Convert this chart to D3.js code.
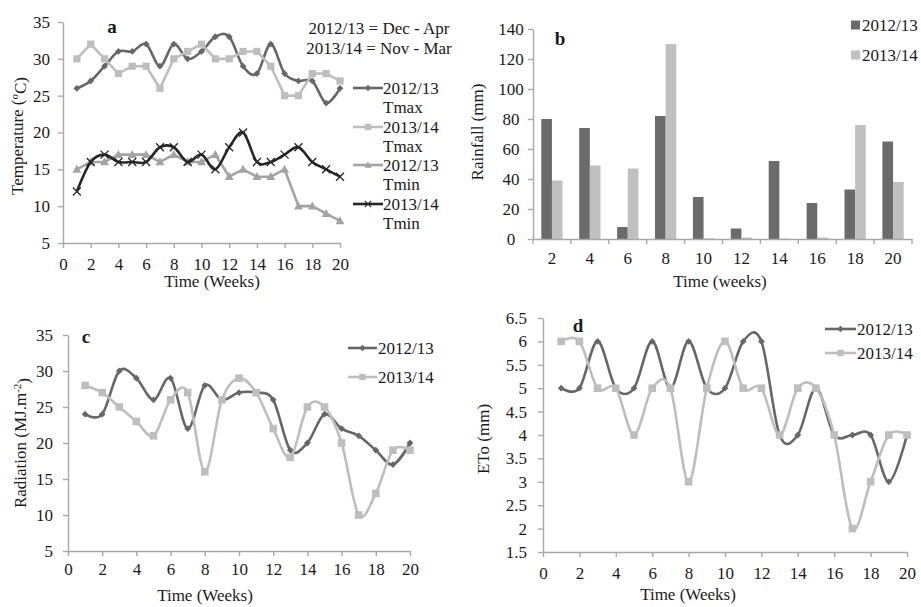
<!DOCTYPE html>
<html>
<head>
<meta charset="utf-8">
<script src="https://cdn.jsdelivr.net/npm/d3@7"></script>
<style>
  body { margin: 0; background: #fff; }
  svg text { font-family: "Liberation Serif", "Times New Roman", serif; fill: #1a1a1a; }
</style>
</head>
<body>
<svg id="fig" width="921" height="607"></svg>
<script>
// ---- data ----
const weeks = [1, 2, 3, 4, 5, 6, 7, 8, 9, 10, 11, 12, 13, 14, 15, 16, 17, 18, 19, 20];
const weekTicks = [0, 2, 4, 6, 8, 10, 12, 14, 16, 18, 20];

// (a) temperature, °C
const tmax1213 = [26, 27, 29, 31, 31, 32, 29, 32, 30, 31, 33, 33, 29, 28, 32, 28, 27, 27, 24, 26];
const tmax1314 = [30, 32, 30, 28, 29, 29, 26, 30, 31, 32, 30, 30, 31, 31, 29, 25, 25, 28, 28, 27];
const tmin1213 = [15, 16, 16, 17, 17, 17, 16, 17, 16, 16, 17, 14, 15, 14, 14, 15, 10, 10, 9, 8];
const tmin1314 = [12, 16, 17, 16, 16, 16, 18, 18, 16, 17, 15, 18, 20, 16, 16, 17, 18, 16, 15, 14];
const tempTicks = [5, 10, 15, 20, 25, 30, 35];

// (b) rainfall, mm (two-week totals)
const rainWeeks = ["2", "4", "6", "8", "10", "12", "14", "16", "18", "20"];
const rain1213 = [80, 74, 8, 82, 28, 7, 52, 24, 33, 65];
const rain1314 = [39, 49, 47, 130, 0.5, 1, 0.3, 1, 76, 38];
const rainTicks = [0, 20, 40, 60, 80, 100, 120, 140];

// (c) solar radiation, MJ m-2
const rad1213 = [24, 24, 30, 29, 26, 29, 22, 28, 26, 27, 27, 26, 19, 20, 24, 22, 21, 19, 17, 20];
const rad1314 = [28, 27, 25, 23, 21, 26, 27, 16, 26, 29, 27, 22, 18, 25, 25, 20, 10, 13, 19, 19];
const radTicks = [5, 10, 15, 20, 25, 30, 35];

// (d) reference evapotranspiration, mm
const eto1213 = [5, 5, 6, 5, 5, 6, 5, 6, 5, 5, 6, 6, 4, 4, 5, 4, 4, 4, 3, 4];
const eto1314 = [6, 6, 5, 5, 4, 5, 5, 3, 5, 6, 5, 5, 4, 5, 5, 4, 2, 3, 4, 4];
const etoTicks = [1.5, 2, 2.5, 3, 3.5, 4, 4.5, 5, 5.5, 6, 6.5];

const seasons = ["2012/13", "2013/14"];

// ---- styling ----
const serif = '"Liberation Serif", "Times New Roman", serif';
const axisColor = "#a8a8a8";
const cDark = "#676767";
const cLight = "#bebebe";
const cMid = "#a3a3a3";
const cBlack = "#262626";

const svg = d3.select("#fig");

function styleAxis(sel) {
  sel.attr("font-family", null).attr("font-size", null);
  sel.select(".domain").attr("stroke", axisColor).attr("stroke-width", 1.4);
  sel.selectAll(".tick line").attr("stroke", axisColor).attr("stroke-width", 1.4);
  sel.selectAll(".tick text").style("font-size", "17px").style("font-family", serif);
}

function markerPath(kind) {
  switch (kind) {
    case "diamond": return "M0,-4L4,0L0,4L-4,0Z";
    case "square": return "M-4,-4H4V4H-4Z";
    case "triangle": return "M0,-4.6L4.4,3.4H-4.4Z";
    case "x": return "M-4,-4L4,4M-4,4L4,-4";
  }
}

function drawMarker(g, kind, color, scale) {
  const p = g.append("path").attr("d", markerPath(kind));
  if (scale) p.attr("transform", `scale(${scale})`);
  if (kind === "x") p.attr("fill", "none").attr("stroke", color).attr("stroke-width", 1.3);
  else p.attr("fill", color);
  return p;
}

function linePanel(p) {
  const x = d3.scaleLinear().domain([0, 20]).range([p.left, p.right]);
  const y = d3.scaleLinear().domain(p.yDomain).range([p.bottom, p.top]);

  svg.append("g")
    .attr("transform", `translate(0,${p.bottom})`)
    .call(d3.axisBottom(x).tickValues(weekTicks).tickSize(5).tickSizeOuter(0).tickPadding(p.xPad))
    .call(styleAxis);

  svg.append("g")
    .attr("transform", `translate(${p.left},0)`)
    .call(d3.axisLeft(y).tickValues(p.yTicks).tickFormat(d => String(d))
      .tickSize(5).tickSizeOuter(0).tickPadding(p.yPad))
    .call(styleAxis);

  p.series.forEach(s => {
    const line = d3.line()
      .x((d, i) => x(weeks[i]))
      .y(d => y(d))
      .curve(s.smooth ? d3.curveCardinal.tension(0) : d3.curveLinear);
    svg.append("path")
      .datum(s.values)
      .attr("d", line)
      .attr("fill", "none")
      .attr("stroke", s.color)
      .attr("stroke-width", 2.6)
      .attr("stroke-linejoin", "round");
    const mg = svg.append("g");
    s.values.forEach((v, i) => {
      const m = mg.append("g").attr("transform", `translate(${x(weeks[i])},${y(v)})`);
      drawMarker(m, s.marker, s.markerColor || s.color, s.markerScale);
    });
  });
  return { x, y };
}

function lineLegend(items, x0, x1, textX) {
  items.forEach(it => {
    svg.append("line")
      .attr("x1", x0).attr("x2", x1).attr("y1", it.y).attr("y2", it.y)
      .attr("stroke", it.color).attr("stroke-width", 2.6);
    const m = svg.append("g").attr("transform", `translate(${(x0 + x1) / 2},${it.y})`);
    drawMarker(m, it.marker, it.color, 0.8);
    it.lines.forEach((t, k) => {
      svg.append("text")
        .attr("x", textX).attr("y", it.y + k * 19.5)
        .attr("dy", "0.35em")
        .style("font-size", "17px")
        .text(t);
    });
  });
}

function panelLetter(t, x, y) {
  svg.append("text").attr("x", x).attr("y", y)
    .attr("text-anchor", "middle")
    .style("font-size", "19px").style("font-weight", "bold")
    .text(t);
}

function xTitle(t, x, y) {
  svg.append("text").attr("x", x).attr("y", y)
    .attr("text-anchor", "middle").style("font-size", "17px").text(t);
}

function yTitle(x, y) {
  return svg.append("text")
    .attr("transform", `translate(${x},${y}) rotate(-90)`)
    .attr("text-anchor", "middle").style("font-size", "17px");
}

// ---- (a) temperature ----
linePanel({
  left: 63, right: 340, top: 22, bottom: 243,
  yDomain: [5, 35], yTicks: tempTicks, xPad: 9.5, yPad: 8,
  series: [
    { values: tmax1213, color: cDark, marker: "diamond", smooth: true, markerScale: 0.85 },
    { values: tmax1314, color: cLight, marker: "square", smooth: false, markerScale: 0.9 },
    { values: tmin1213, color: cMid, marker: "triangle", smooth: false },
    { values: tmin1314, color: cBlack, marker: "x", smooth: true }
  ]
});
panelLetter("a", 112, 33);
xTitle("Time (Weeks)", 212, 287);
{
  const t = yTitle(23, 136);
  t.append("tspan").text("Temperature (");
  t.append("tspan").attr("dy", "-0.45em").style("font-size", "11px").text("o");
  t.append("tspan").attr("dy", "0.45em").text("C)");
}
svg.append("text").attr("x", 379).attr("y", 28).attr("dy", "0.35em")
  .attr("text-anchor", "middle").style("font-size", "17px").text("2012/13 = Dec - Apr");
svg.append("text").attr("x", 379).attr("y", 48).attr("dy", "0.35em")
  .attr("text-anchor", "middle").style("font-size", "17px").text("2013/14 = Nov - Mar");
lineLegend([
  { y: 88, color: cDark, marker: "diamond", lines: ["2012/13", "Tmax"] },
  { y: 127, color: cLight, marker: "square", lines: ["2013/14", "Tmax"] },
  { y: 165, color: cMid, marker: "triangle", lines: ["2012/13", "Tmin"] },
  { y: 204, color: cBlack, marker: "x", lines: ["2013/14", "Tmin"] }
], 353, 383, 383);

// ---- (b) rainfall ----
{
  const left = 533, right = 912, top = 29, bottom = 239;
  const x0 = d3.scaleBand().domain(rainWeeks).range([left, right]);
  const x1 = d3.scaleBand().domain(seasons).range([8.3, x0.step() - 8.3]);
  const y = d3.scaleLinear().domain([0, 140]).range([bottom, top]);
  const colors = { "2012/13": "#6b6b6b", "2013/14": "#c0c0c0" };
  const series = { "2012/13": rain1213, "2013/14": rain1314 };

  seasons.forEach(s => {
    svg.append("g").selectAll("rect")
      .data(series[s])
      .join("rect")
      .attr("x", (d, i) => x0(rainWeeks[i]) + x1(s))
      .attr("width", x1.bandwidth())
      .attr("y", d => y(d))
      .attr("height", d => y(0) - y(d))
      .attr("fill", colors[s]);
  });

  const ax = svg.append("g")
    .attr("transform", `translate(0,${bottom})`)
    .call(d3.axisBottom(x0).tickSize(0).tickSizeOuter(0).tickPadding(12.5))
    .call(styleAxis);
  // category boundary ticks
  ax.selectAll(".bound")
    .data(rainWeeks.concat([null]))
    .join("line")
    .attr("class", "bound")
    .attr("x1", (d, i) => left + i * x0.step())
    .attr("x2", (d, i) => left + i * x0.step())
    .attr("y1", 0).attr("y2", 5)
    .attr("stroke", axisColor).attr("stroke-width", 1.4);

  const ay = svg.append("g")
    .attr("transform", `translate(${left},0)`)
    .call(d3.axisLeft(y).tickValues(rainTicks).tickSize(5).tickSizeOuter(0).tickPadding(1))
    .call(styleAxis);
  ay.selectAll(".tick text").attr("text-anchor", "middle").attr("x", -22);

  panelLetter("b", 560, 45);
  xTitle("Time (weeks)", 720, 287);
  yTitle(483, 132).text("Rainfall (mm)");

  seasons.forEach((s, k) => {
    const cy = 25 + k * 30;
    svg.append("rect").attr("x", 851).attr("y", cy - 4.5).attr("width", 9).attr("height", 9)
      .attr("fill", colors[s]);
    svg.append("text").attr("x", 862).attr("y", cy).attr("dy", "0.35em")
      .style("font-size", "17px").text(s);
  });
}

// ---- (c) radiation ----
linePanel({
  left: 68, right: 410, top: 335, bottom: 551,
  yDomain: [5, 35], yTicks: radTicks, xPad: 6.5, yPad: 10,
  series: [
    { values: rad1213, color: cDark, marker: "diamond", smooth: true, markerScale: 0.85 },
    { values: rad1314, color: cLight, marker: "square", smooth: true, markerScale: 0.95 }
  ]
});
panelLetter("c", 86, 343);
xTitle("Time (Weeks)", 205, 601);
{
  const t = yTitle(26, 443);
  t.append("tspan").text("Radiation (MJ.m");
  t.append("tspan").attr("dy", "-0.45em").style("font-size", "11px").text("-2");
  t.append("tspan").attr("dy", "0.45em").text(")");
}
lineLegend([
  { y: 348, color: cDark, marker: "diamond", lines: ["2012/13"] },
  { y: 377, color: cLight, marker: "square", lines: ["2013/14"] }
], 348, 377, 378);

// ---- (d) ETo ----
linePanel({
  left: 543, right: 907, top: 318, bottom: 552,
  yDomain: [1.5, 6.5], yTicks: etoTicks, xPad: 9.5, yPad: 11,
  series: [
    { values: eto1213, color: cDark, marker: "diamond", smooth: true, markerScale: 0.85 },
    { values: eto1314, color: cLight, marker: "square", smooth: true, markerScale: 0.95 }
  ]
});
panelLetter("d", 578, 332);
xTitle("Time (Weeks)", 688, 600);
yTitle(489, 439).text("ETo (mm)");
lineLegend([
  { y: 329, color: cDark, marker: "diamond", lines: ["2012/13"] },
  { y: 353, color: cLight, marker: "square", lines: ["2013/14"] }
], 825, 856, 857);
</script>
</body>
</html>
